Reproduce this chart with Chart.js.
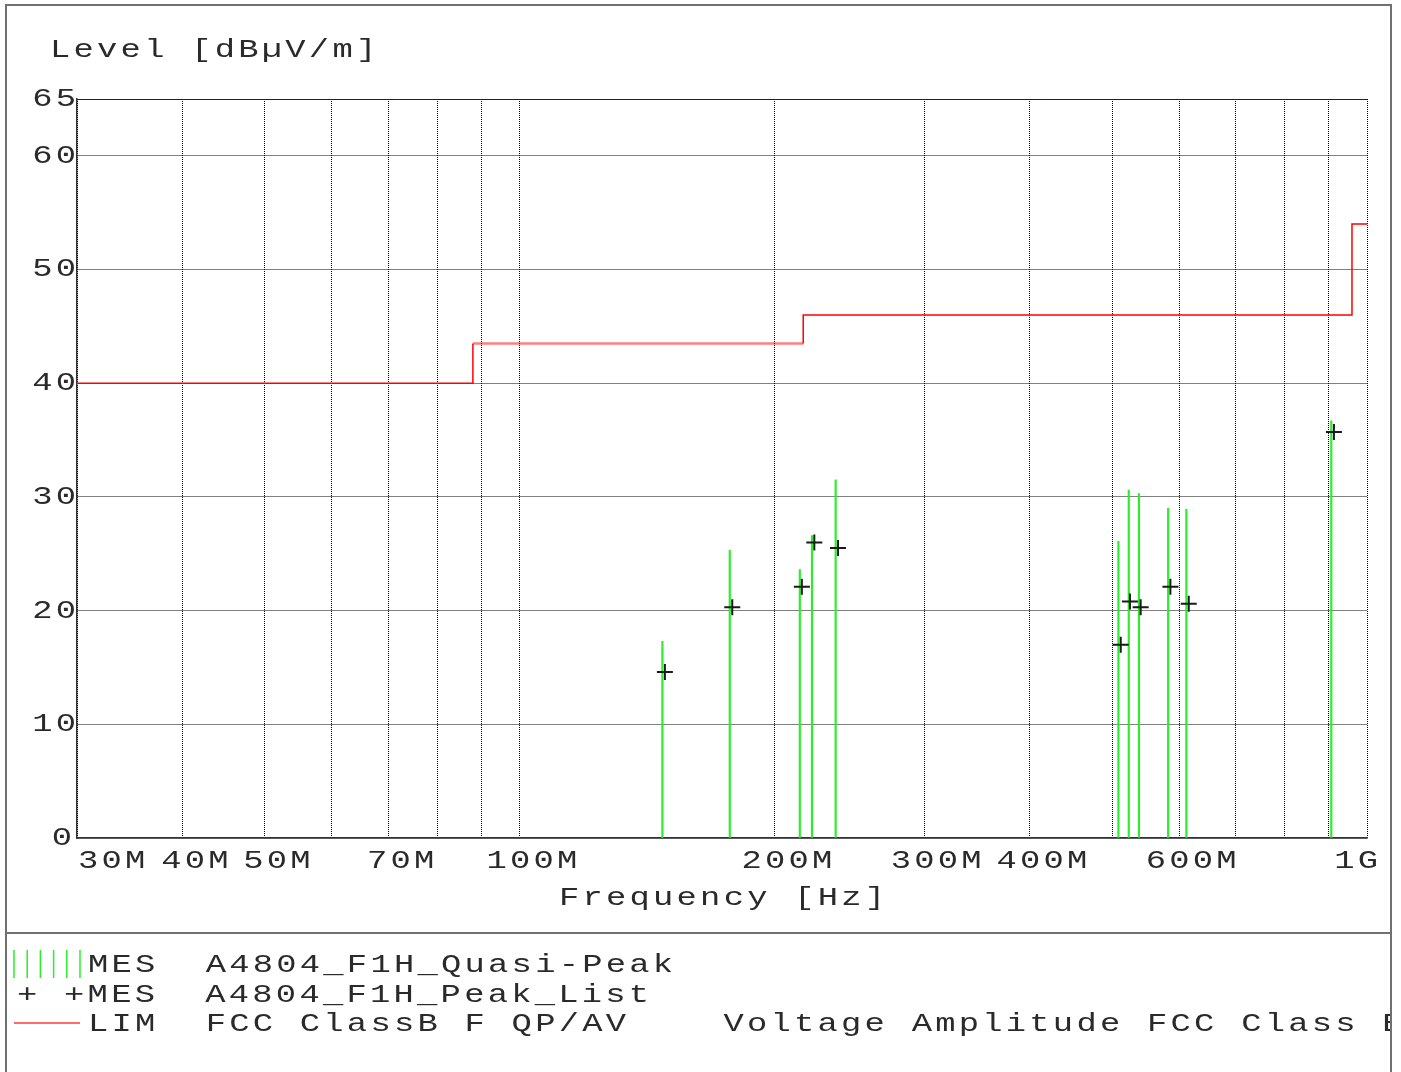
<!DOCTYPE html>
<html>
<head>
<meta charset="utf-8">
<script src="https://cdn.jsdelivr.net/npm/chart.js@4.4.1/dist/chart.umd.min.js"></script>
<style>
  body { margin: 0; background: #fff; }
  canvas { display: block; }
</style>
</head>
<body>
<canvas id="emcChart" width="1401" height="1072"></canvas>
<script>
// frequencies in MHz, levels in dBuV/m
const qpFreq  = [147.3, 176.9, 214.0, 221.2, 235.9, 508.8, 523.3, 538.0, 582.4, 612.0, 907.5];
const qpLevel = [17.3, 25.3, 23.6, 26.6, 31.5, 26.1, 30.6, 30.3, 29.0, 28.9, 36.7];

const pkFreq  = [148.3, 178.1, 215.2, 222.6, 237.4, 512.0, 525.0, 540.5, 586.0, 616.0, 914.0];
const pkLevel = [14.6, 20.3, 22.1, 26.0, 25.5, 17.0, 20.8, 20.3, 22.1, 20.6, 35.7];

// FCC class B limit steps
const limFreq  = [30, 88, 88, 216, 216, 960, 960, 1000];
const limLevel = [40, 40, 43.5, 43.5, 46, 46, 54, 54];

const xGridValues = [30, 40, 50, 60, 70, 80, 90, 100, 200, 300, 400, 500, 600, 700, 800, 900, 1000];
const xLabelValues = [30, 40, 50, 70, 100, 200, 300, 400, 600, 1000];
const xLabelTexts  = ['30M', '40M', '50M', '70M', '100M', '200M', '300M', '400M', '600M', '1G'];
const yTicks = [0, 10, 20, 30, 40, 50, 60, 65];

const yTitle = 'Level [dBµV/m]';
const xTitle = 'Frequency [Hz]';
const legendRows = [
  'MES  A4804_F1H_Quasi-Peak',
  '+ +MES  A4804_F1H_Peak_List',
  'LIM  FCC ClassB F QP/AV    Voltage Amplitude FCC Class B'
];

const FONT = "'Liberation Mono', 'Courier New', monospace";
const FONT_SIZE = 26;
const SX = 1.3;      // the plotter font is wide, stretch it
const LS = 2.5;      // letter spacing before stretch
const TEXT = '#2a2a2a';
const GREEN = '#2aee2a';

const toXY = (xs, ys) => xs.map((x, i) => ({ x: x, y: ys[i] }));

function drawText(ctx, str, x, y, align, baseline) {
  ctx.save();
  ctx.font = FONT_SIZE + 'px ' + FONT;
  ctx.letterSpacing = LS + 'px';
  ctx.fillStyle = TEXT;
  ctx.textAlign = 'left';
  ctx.textBaseline = baseline || 'alphabetic';
  const w = (ctx.measureText(str).width - LS) * SX;
  let x0 = x;
  if (align === 'center') x0 = x - w / 2;
  else if (align === 'right') x0 = x - w;
  ctx.translate(x0, y);
  ctx.scale(SX, 1);
  ctx.fillText(str, 0, 0);
  ctx.restore();
}

const frameAndText = {
  id: 'frameAndText',
  afterDraw(chart) {
    const ctx = chart.ctx;
    const area = chart.chartArea;
    const xs = chart.scales.x;
    const ys = chart.scales.y;
    ctx.save();

    // solid top edge of plot
    ctx.strokeStyle = '#222';
    ctx.lineWidth = 1;
    ctx.beginPath();
    ctx.moveTo(area.left, area.top + 0.5);
    ctx.lineTo(area.right, area.top + 0.5);
    ctx.stroke();

    // outer frame + legend separator
    ctx.strokeStyle = '#707070';
    ctx.lineWidth = 2;
    ctx.beginPath();
    ctx.moveTo(6, 1072);
    ctx.lineTo(6, 5);
    ctx.lineTo(1391, 5);
    ctx.lineTo(1391, 1072);
    ctx.moveTo(6, 933);
    ctx.lineTo(1391, 933);
    ctx.stroke();

    // axis labels
    yTicks.forEach(v => drawText(ctx, String(v), v === 0 ? 72 : 76, ys.getPixelForValue(v), 'right', 'middle'));
    xLabelValues.forEach((v, i) => {
      const px = xs.getPixelForValue(v);
      if (i === 0) drawText(ctx, xLabelTexts[i], px + 1, 861, 'left', 'middle');
      else if (i === xLabelValues.length - 1) drawText(ctx, xLabelTexts[i], px + 11, 861, 'right', 'middle');
      else drawText(ctx, xLabelTexts[i], px + 12, 861, 'center', 'middle');
    });
    drawText(ctx, yTitle, 50, 57, 'left');
    drawText(ctx, xTitle, (area.left + area.right) / 2, 898, 'center', 'middle');

    // legend
    ctx.strokeStyle = GREEN;
    ctx.lineWidth = 1.5;
    ctx.beginPath();
    for (let i = 0; i < 6; i++) {
      const x = 14 + i * 13.2;
      ctx.moveTo(x, 950);
      ctx.lineTo(x, 978);
    }
    ctx.stroke();

    ctx.strokeStyle = '#ff6a6a';
    ctx.lineWidth = 2;
    ctx.beginPath();
    ctx.moveTo(14, 1023);
    ctx.lineTo(80, 1023);
    ctx.stroke();

    ctx.beginPath();
    ctx.rect(0, 934, 1390, 138);
    ctx.clip();
    drawText(ctx, legendRows[0], 88, 972, 'left');
    drawText(ctx, legendRows[1], 17, 1002, 'left');
    drawText(ctx, legendRows[2], 88, 1031, 'left');
    ctx.restore();
  }
};

new Chart(document.getElementById('emcChart'), {
  type: 'scatter',
  data: {
    datasets: [
      {
        label: 'MES A4804_F1H_Peak_List',
        type: 'scatter',
        data: toXY(pkFreq, pkLevel),
        pointStyle: 'cross',
        pointRadius: 8,
        pointBorderWidth: 2,
        borderColor: '#1a1a1a',
        backgroundColor: '#1a1a1a'
      },
      {
        label: 'LIM FCC ClassB F QP/AV',
        type: 'line',
        data: toXY(limFreq, limLevel),
        borderColor: '#ff0000',
        borderWidth: 1.5,
        pointRadius: 0,
        fill: false,
        tension: 0,
        segment: {
          borderColor: c => (c.p0.parsed.y === 43.5 && c.p1.parsed.y === 43.5) ? 'rgba(255,0,0,0.5)' : undefined,
          borderWidth: c => (c.p0.parsed.y === 43.5 && c.p1.parsed.y === 43.5) ? 2.5 : undefined
        }
      },
      {
        label: 'MES A4804_F1H_Quasi-Peak',
        type: 'bar',
        data: toXY(qpFreq, qpLevel),
        backgroundColor: GREEN,
        borderWidth: 0,
        barThickness: 1.5
      }
    ]
  },
  options: {
    responsive: false,
    animation: false,
    devicePixelRatio: 1,
    layout: { padding: { left: 0, top: 99, right: 34, bottom: 0 } },
    plugins: {
      legend: { display: false },
      tooltip: { enabled: false }
    },
    scales: {
      x: {
        type: 'logarithmic',
        min: 30,
        max: 1000,
        offset: false,
        afterBuildTicks: s => { s.ticks = xGridValues.map(v => ({ value: v })); },
        afterFit: s => { s.height = 234; },
        grid: { color: '#000', lineWidth: 1, drawTicks: false, offset: false },
        border: { display: true, color: '#333', width: 1.5, dash: [1, 1] },
        ticks: { display: false },
        title: { display: false }
      },
      y: {
        type: 'linear',
        min: 0,
        max: 65,
        afterBuildTicks: s => { s.ticks = yTicks.map(v => ({ value: v })); },
        afterFit: s => { s.width = 77; },
        grid: { color: '#000', lineWidth: 1, drawTicks: false },
        border: { display: true, color: '#333', width: 1.5, dash: [1, 1] },
        ticks: { display: false }
      }
    }
  },
  plugins: [frameAndText]
});
</script>
</body>
</html>
